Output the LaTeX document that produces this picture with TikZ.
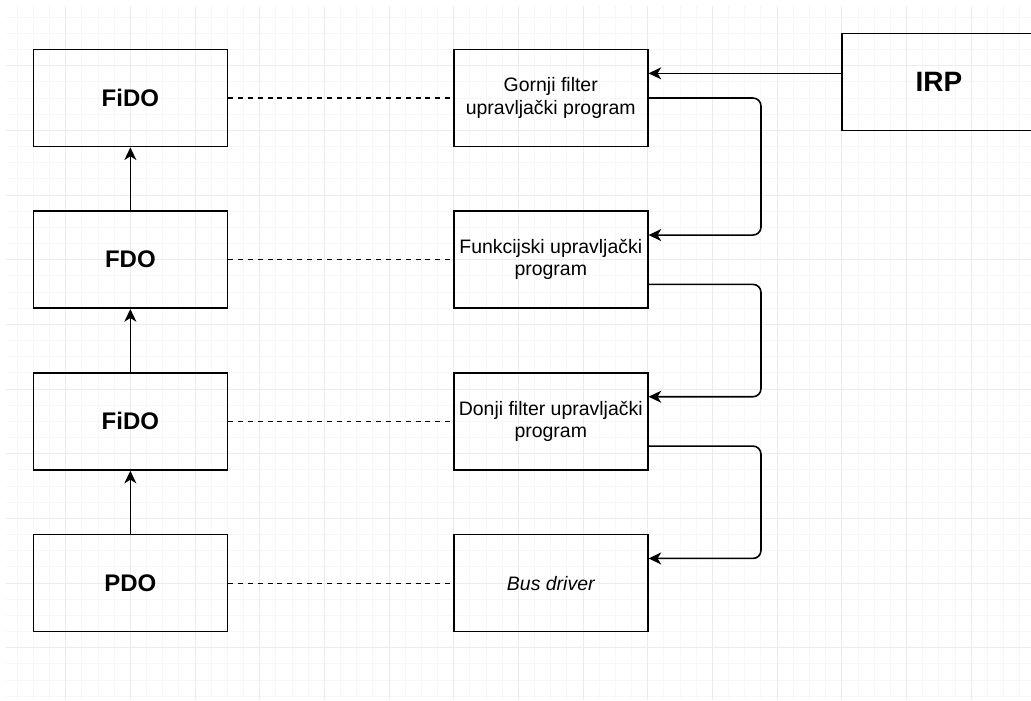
\documentclass[tikz,border=0pt]{standalone}
\usepackage{fontspec}
\setmainfont{Liberation Sans}
\usetikzlibrary{arrows.meta, calc}
\definecolor{gridminor}{RGB}{247,247,247}
\definecolor{gridmajor}{RGB}{236,236,236}

\begin{document}
\begin{tikzpicture}[x=12.1275pt, y=-12.1275pt,
  objbox/.style={draw, line width=1.2pt, minimum width=145.5pt, minimum height=72.8pt, inner sep=2pt, align=center, font=\bfseries\fontsize{18}{21}\selectfont},
  drvbox/.style={draw, line width=1.2pt, minimum width=145.5pt, minimum height=72.8pt, inner sep=2pt, align=center, font=\fontsize{14.6}{16.6}\selectfont},
  link/.style={line width=1.2pt, -{Stealth[length=9.5pt, width=9pt, inset=2.8pt]}, rounded corners=6pt},
  attach/.style={line width=0.9pt, dash pattern=on 3.7pt off 3.7pt}
]
  \useasboundingbox[fill=white] (-0.062,-0.062) rectangle (63.70,43.23);

  % background grid
  \foreach \i in {1,...,63}
    \draw[gridminor, line width=0.75pt] (\i,0.31) -- (\i,43.23);
  \foreach \j in {1,...,43}
    \draw[gridminor, line width=0.75pt] (0.31,\j) -- (63.70,\j);
  \foreach \i in {4,8,...,60}
    \draw[gridmajor, line width=0.75pt] (\i,0.31) -- (\i,43.23);
  \foreach \j in {4,8,...,40}
    \draw[gridmajor, line width=0.75pt] (0.31,\j) -- (63.70,\j);

  % device objects
  \node[objbox] (fido1) at (8,6) {FiDO};
  \node[objbox] (fdo) at (8,16) {FDO};
  \node[objbox] (fido2) at (8,26) {FiDO};
  \node[objbox] (pdo) at (8,36) {PDO};

  % drivers
  \node[drvbox] (upper) at (34,6) {Gornji filter\\upravljački program};
  \node[drvbox] (func) at (34,16) {Funkcijski upravljački\\program};
  \node[drvbox] (lower) at (34,26) {Donji filter upravljački\\program};
  \node[drvbox] (bus) at (34,36) {\itshape Bus driver};

  % request packet
  \node[objbox, font=\bfseries\fontsize{21}{24}\selectfont] (irp) at (58,5) {IRP};

  % stack
  \draw[link] (pdo) -- (fido2);
  \draw[link] (fido2) -- (fdo);
  \draw[link] (fdo) -- (fido1);

  % attachments
  \draw[attach] (fido1) -- (upper);
  \draw[attach] (fdo) -- (func);
  \draw[attach] (fido2) -- (lower);
  \draw[attach] (pdo) -- (bus);

  % IRP path
  \coordinate (rail) at (47,0);
  \coordinate (upperin) at ($(upper.north east)!.25!(upper.south east)$);
  \coordinate (funcin) at ($(func.north east)!.25!(func.south east)$);
  \coordinate (funcout) at ($(func.north east)!.75!(func.south east)$);
  \coordinate (lowerin) at ($(lower.north east)!.25!(lower.south east)$);
  \coordinate (lowerout) at ($(lower.north east)!.75!(lower.south east)$);
  \coordinate (busin) at ($(bus.north east)!.25!(bus.south east)$);

  \draw[link] (irp.west |- upperin) -- (upperin);
  \draw[link] (upper.east) -| (rail |- funcin) -- (funcin);
  \draw[link] (funcout) -| (rail |- lowerin) -- (lowerin);
  \draw[link] (lowerout) -| (rail |- busin) -- (busin);
\end{tikzpicture}
\end{document}
